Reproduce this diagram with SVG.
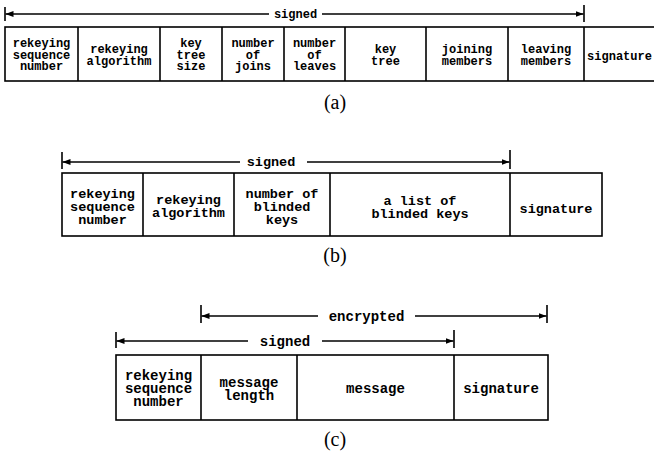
<svg xmlns="http://www.w3.org/2000/svg" width="654" height="455" viewBox="0 0 654 455">
<defs>
<marker id="ah" viewBox="0 0 8 6" refX="8" refY="3" markerWidth="8" markerHeight="6" markerUnits="userSpaceOnUse" orient="auto">
<path d="M0,0 L8,3 L0,6 z" fill="#000"/>
</marker>
<style>
.box{fill:none;stroke:#000;stroke-width:1.6}
.div{stroke:#000;stroke-width:1.6}
.arr{stroke:#000;stroke-width:1.5;fill:none;marker-end:url(#ah)}
.tick{stroke:#000;stroke-width:1.6}
.t{font-family:"Liberation Mono","Courier New",monospace;font-weight:bold;text-anchor:middle;fill:#000}
.fa{font-size:12px}
.fb{font-size:13.5px}
.fc{font-size:14px}
.cap{font-family:"Liberation Serif","Times New Roman",serif;font-size:20px;text-anchor:middle;fill:#000}
</style>
</defs>
<rect width="654" height="455" fill="#fff"/>

<!-- (a) -->
<g id="a-connectors">
<line class="tick" x1="5" y1="7" x2="5" y2="21"/>
<line class="tick" x1="584" y1="5" x2="584" y2="22"/>
<line class="arr" x1="269" y1="14" x2="5.5" y2="14"/>
<line class="arr" x1="322" y1="14" x2="583.5" y2="14"/>
<text class="t fa" x="295.5" y="18">signed</text>
</g>
<g id="a-record">
<rect class="box" x="5" y="27" width="652" height="54"/>
<line class="div" x1="78" y1="27" x2="78" y2="81"/>
<line class="div" x1="160" y1="27" x2="160" y2="81"/>
<line class="div" x1="222" y1="27" x2="222" y2="81"/>
<line class="div" x1="284" y1="27" x2="284" y2="81"/>
<line class="div" x1="345" y1="27" x2="345" y2="81"/>
<line class="div" x1="426" y1="27" x2="426" y2="81"/>
<line class="div" x1="508" y1="27" x2="508" y2="81"/>
<line class="div" x1="584" y1="27" x2="584" y2="81"/>
</g>
<g id="a1"><text class="t fa" x="41.5" y="47">rekeying</text><text class="t fa" x="41.5" y="58.7">sequence</text><text class="t fa" x="41.5" y="70.4">number</text></g>
<g id="a2"><text class="t fa" x="119" y="53">rekeying</text><text class="t fa" x="119" y="64.7">algorithm</text></g>
<g id="a3"><text class="t fa" x="191" y="47">key</text><text class="t fa" x="191" y="58.7">tree</text><text class="t fa" x="191" y="70.4">size</text></g>
<g id="a4"><text class="t fa" x="253" y="47">number</text><text class="t fa" x="253" y="58.7">of</text><text class="t fa" x="253" y="70.4">joins</text></g>
<g id="a5"><text class="t fa" x="314.5" y="47">number</text><text class="t fa" x="314.5" y="58.7">of</text><text class="t fa" x="314.5" y="70.4">leaves</text></g>
<g id="a6"><text class="t fa" x="385.5" y="53">key</text><text class="t fa" x="385.5" y="64.7">tree</text></g>
<g id="a7"><text class="t fa" x="467" y="53">joining</text><text class="t fa" x="467" y="64.7">members</text></g>
<g id="a8"><text class="t fa" x="546" y="53">leaving</text><text class="t fa" x="546" y="64.7">members</text></g>
<g id="a9"><text class="t fa" x="619.5" y="59.5">signature</text></g>
<text class="cap" x="335" y="109">(a)</text>

<!-- (b) -->
<g id="b-connectors">
<line class="tick" x1="62" y1="152" x2="62" y2="169"/>
<line class="tick" x1="510" y1="150" x2="510" y2="169"/>
<line class="arr" x1="240" y1="162" x2="62.5" y2="162"/>
<line class="arr" x1="307" y1="162" x2="509.5" y2="162"/>
<text class="t fb" x="271" y="166">signed</text>
</g>
<g id="b-record">
<rect class="box" x="62" y="173" width="540" height="63"/>
<line class="div" x1="143" y1="173" x2="143" y2="236"/>
<line class="div" x1="234" y1="173" x2="234" y2="236"/>
<line class="div" x1="330" y1="173" x2="330" y2="236"/>
<line class="div" x1="510" y1="173" x2="510" y2="236"/>
</g>
<g id="b1"><text class="t fb" x="102.5" y="197.5">rekeying</text><text class="t fb" x="102.5" y="210.5">sequence</text><text class="t fb" x="102.5" y="223.5">number</text></g>
<g id="b2"><text class="t fb" x="188.5" y="204">rekeying</text><text class="t fb" x="188.5" y="217">algorithm</text></g>
<g id="b3"><text class="t fb" x="282" y="197.5">number of</text><text class="t fb" x="282" y="210.5">blinded</text><text class="t fb" x="282" y="223.5">keys</text></g>
<g id="b4"><text class="t fb" x="420" y="204.5">a list of</text><text class="t fb" x="420" y="217.5">blinded keys</text></g>
<g id="b5"><text class="t fb" x="556" y="213">signature</text></g>
<text class="cap" x="335" y="262">(b)</text>

<!-- (c) -->
<g id="c-connectors">
<line class="tick" x1="201" y1="305" x2="201" y2="323"/>
<line class="tick" x1="547" y1="305" x2="547" y2="323"/>
<line class="arr" x1="318" y1="316" x2="201.5" y2="316"/>
<line class="arr" x1="415" y1="316" x2="546.5" y2="316"/>
<text class="t fc" x="366.5" y="320.5">encrypted</text>
<line class="tick" x1="116" y1="332" x2="116" y2="348"/>
<line class="tick" x1="454" y1="330" x2="454" y2="348"/>
<line class="arr" x1="248" y1="341" x2="116.5" y2="341"/>
<line class="arr" x1="322" y1="341" x2="453.5" y2="341"/>
<text class="t fc" x="285" y="345.5">signed</text>
</g>
<g id="c-record">
<rect class="box" x="116" y="355" width="432" height="65"/>
<line class="div" x1="201" y1="355" x2="201" y2="420"/>
<line class="div" x1="297" y1="355" x2="297" y2="420"/>
<line class="div" x1="454" y1="355" x2="454" y2="420"/>
</g>
<g id="c1"><text class="t fc" x="158.5" y="379.5">rekeying</text><text class="t fc" x="158.5" y="392.5">sequence</text><text class="t fc" x="158.5" y="406">number</text></g>
<g id="c2"><text class="t fc" x="249" y="386.5">message</text><text class="t fc" x="249" y="399.5">length</text></g>
<g id="c3"><text class="t fc" x="375.5" y="392.5">message</text></g>
<g id="c4"><text class="t fc" x="501" y="392.5">signature</text></g>
<text class="cap" x="335" y="446">(c)</text>
</svg>
